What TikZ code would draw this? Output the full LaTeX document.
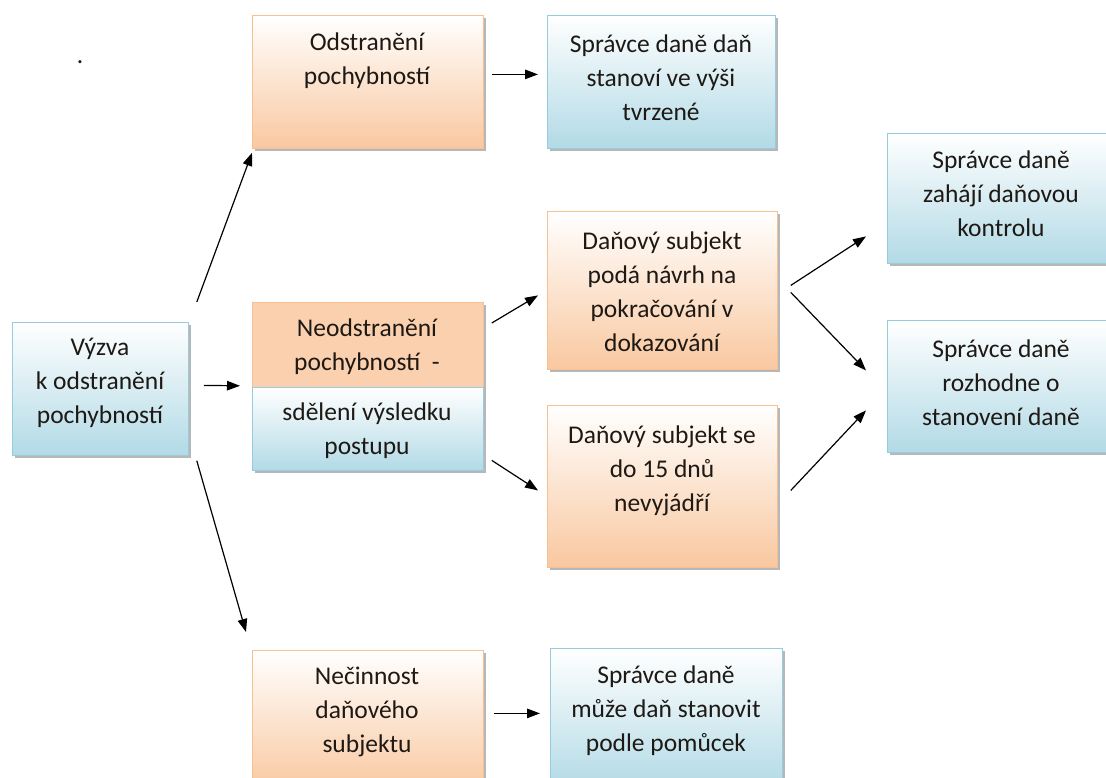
\documentclass[tikz,border=0pt]{standalone}
\usepackage{fontspec}
\setmainfont{Carlito}
\usetikzlibrary{arrows.meta,shadows}
\definecolor{obot}{RGB}{249,200,160}
\definecolor{oedge}{RGB}{246,192,146}
\definecolor{bbot}{RGB}{178,218,230}
\definecolor{bedge}{RGB}{150,205,222}
\definecolor{txt}{RGB}{30,25,20}
\begin{document}
\begin{tikzpicture}[x=1pt,y=-1pt,
 box/.style={draw, line width=0.8pt, anchor=north west, inner sep=0pt,
   drop shadow={shadow xshift=3pt, shadow yshift=-3pt, fill=black!40, opacity=0.7}},
 obox/.style={box, draw=oedge, top color=white, bottom color=obot},
 bbox/.style={box, draw=bedge, top color=white, bottom color=bbot},
 lbl/.style={align=center, font=\fontsize{25.5}{34}\selectfont, text=txt},
 arr/.style={-{Triangle[length=13pt,width=9.5pt]}, line width=1.2pt}]
\useasboundingbox (0,0) rectangle (1106,778);
\fill[white] (0,0) rectangle (1106,778);

\node[obox, minimum width=231pt, minimum height=133pt] (b1) at (252,15) {};
\node[bbox, minimum width=228pt, minimum height=133pt] (b2) at (547,15) {};
\node[bbox, minimum width=176pt, minimum height=133pt] (b3) at (12,322) {};
\node[box, draw=oedge, fill=obot!85, minimum width=231pt, minimum height=85pt] (b4a) at (252,302) {};
\node[bbox, minimum width=231pt, minimum height=83pt] (b4b) at (252,387) {};
\node[obox, minimum width=230pt, minimum height=158pt] (b5) at (547,211) {};
\node[obox, minimum width=230pt, minimum height=162pt] (b6) at (547,405) {};
\node[bbox, minimum width=226pt, minimum height=130pt] (b7) at (887,133) {};
\node[bbox, minimum width=226pt, minimum height=132pt] (b8) at (887,320) {};
\node[obox, minimum width=231pt, minimum height=140pt] (b9) at (252,650) {};
\node[bbox, minimum width=232pt, minimum height=140pt] (b10) at (550,648) {};

\node[lbl] (t1) at (367,61) {Odstranění\\pochybností};
\node[lbl] (t2) at (661,78) {Správce daně daň\\stanoví ve výši\\tvrzené};
\node[lbl] (t3) at (100,383) {Výzva\\k odstranění\\pochybností};
\node[lbl] (t4a) at (367,347) {Neodstranění\\pochybností~~-};
\node[lbl] (t4b) at (367,431) {sdělení výsledku\\postupu};
\node[lbl] (t5) at (662,292) {Daňový subjekt\\podá návrh na\\pokračování v\\dokazování};
\node[lbl] (t6) at (662,471) {Daňový subjekt se\\do 15 dnů\\nevyjádří};
\node[lbl] (t7) at (1001,194) {Správce daně\\zahájí daňovou\\kontrolu};
\node[lbl] (t8) at (1001,383) {Správce daně\\rozhodne o\\stanovení daně};
\node[lbl] (t9) at (367,712) {Nečinnost\\daňového\\subjektu};
\node[lbl] (t10) at (666,711) {Správce daně\\může daň stanovit\\podle pomůcek};
\node[lbl, anchor=base] (dot) at (80,64) {.};

\draw[arr] ([shift={(8pt,20pt)}]b3.north east) -- ([yshift=-4pt]b1.south west);
\draw[arr] ([shift={(15pt,3.5pt)}]b3.east) -- ([shift={(-12pt,2pt)}]b4a.south west);
\draw[arr] ([shift={(8pt,-5pt)}]b3.south east) -- ([shift={(-6pt,18pt)}]b9.north west);
\draw[arr] ([shift={(8pt,7.5pt)}]b1.east) -- ([shift={(-9pt,7.5pt)}]b2.west);
\draw[arr] ([shift={(8pt,-21pt)}]b4a.north east) -- ([shift={(-9pt,-5pt)}]b5.west);
\draw[arr] ([shift={(8pt,-31.5pt)}]b4b.east) -- ([shift={(-9pt,-4pt)}]b6.west);
\draw[arr] ([shift={(13pt,5pt)}]b5.east) -- ([shift={(-21pt,-38pt)}]b7.west);
\draw[arr] ([shift={(13pt,-2pt)}]b5.east) -- ([shift={(-21pt,16pt)}]b8.west);
\draw[arr] ([shift={(13pt,-4pt)}]b6.east) -- ([shift={(-21pt,-24pt)}]b8.west);
\draw[arr] ([shift={(10pt,7pt)}]b9.east) -- ([shift={(-10pt,5pt)}]b10.west);
\end{tikzpicture}
\end{document}
